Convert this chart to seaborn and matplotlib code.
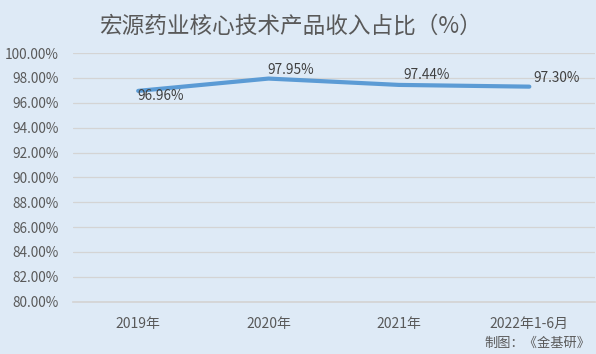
import numpy as np
import pandas as pd
import seaborn as sns
import matplotlib.pyplot as plt
from matplotlib.ticker import FuncFormatter

# data
periods = ['2019年', '2020年', '2021年', '2022年1-6月']
share = [96.96, 97.95, 97.44, 97.30]
label_offsets = [(16, -3.5), (16, 6), (20, 7), (19.5, 6.5)]

bg = '#deeaf6'
line_color = '#5b9bd5'
text_gray = '#595959'

sns.set_theme(style='white')
plt.rcParams['font.family'] = ['Noto Sans CJK SC', 'DejaVu Sans']

df = pd.DataFrame({'period': periods, 'share': share})

fig = plt.figure(figsize=(5.96, 3.54), dpi=100)
fig.patch.set_facecolor(bg)
ax = fig.add_axes([0.1225, 0.148, 0.875, 0.702])
ax.set_facecolor(bg)

sns.lineplot(data=df, x='period', y='share', sort=False, color=line_color,
             linewidth=3, ax=ax)

ax.set_xlim(-0.5, 3.5)
ax.set_ylim(80, 100)
ax.set_yticks(np.arange(80, 100.1, 2))
ax.yaxis.set_major_formatter(FuncFormatter(lambda v, _: f'{v:.2f}%'))
ax.grid(axis='y', color='#d4d4d4', linewidth=0.9)
ax.set_axisbelow(True)
for s in ax.spines.values():
    s.set_visible(False)
ax.spines['bottom'].set_visible(True)
ax.spines['bottom'].set_color('#d4d4d4')
ax.tick_params(axis='x', length=0, labelsize=10, colors=text_gray, pad=11)
ax.tick_params(axis='y', length=0, labelsize=9.8, colors=text_gray, pad=10)
ax.set_xlabel('')
ax.set_ylabel('')

for i, (v, off) in enumerate(zip(share, label_offsets)):
    ax.annotate(f'{v:.2f}%', (i, v), xytext=off, textcoords='offset points',
                ha='center', va='center', fontsize=9.8, color='#404040')

fig.text(0.487, 0.925, '宏源药业核心技术产品收入占比（%）', ha='center', va='center',
         fontsize=16.3, color=text_gray)
fig.text(0.99, 0.03, '制图：《金基研》', ha='right', va='center',
         fontsize=9.5, color=text_gray)

fig.savefig('out.png', dpi=100, facecolor=bg)
